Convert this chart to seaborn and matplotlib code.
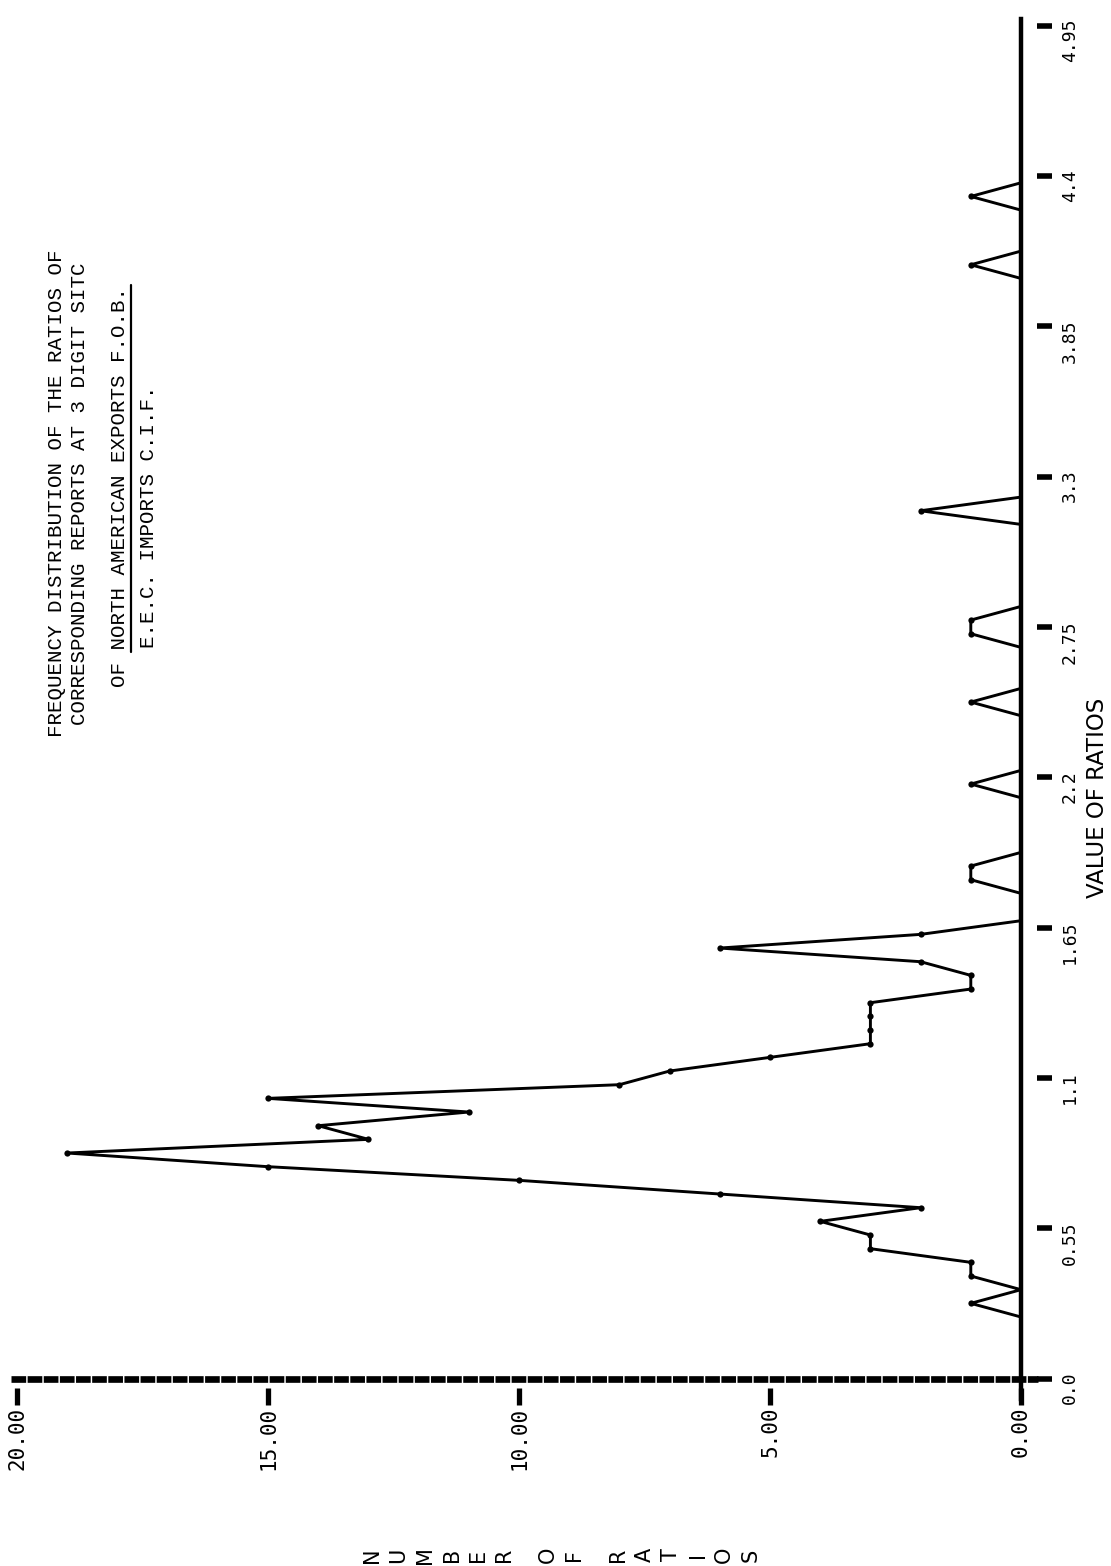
import numpy as np
import pandas as pd
import matplotlib
matplotlib.use("Agg")
import matplotlib.pyplot as plt
import seaborn as sns

# Ratio classes of width 0.05 (plotted at class midpoints) and number of ratios per class
class_width = 0.05
counts = [
    0, 0, 0, 0, 0, 1, 0, 1, 1, 3,      # 0.025 - 0.475
    3, 4, 2, 6, 10, 15, 19, 13, 14, 11,  # 0.525 - 0.975
    15, 8, 7, 5, 3, 3, 3, 3, 1, 1,     # 1.025 - 1.475
    2, 6, 2, 0, 0, 0, 1, 1, 0, 0,      # 1.525 - 1.975
    0, 0, 0, 1, 0, 0, 0, 0, 0, 1,      # 2.025 - 2.475
    0, 0, 0, 0, 1, 1, 0, 0, 0, 0,      # 2.525 - 2.975
    0, 0, 0, 2, 0, 0, 0, 0, 0, 0,      # 3.025 - 3.475
    0, 0, 0, 0, 0, 0, 0, 0, 0, 0,      # 3.525 - 3.975
    0, 1, 0, 0, 0, 0, 1, 0, 0, 0,      # 4.025 - 4.475
    0, 0, 0, 0, 0, 0, 0, 0, 0,         # 4.525 - 4.925
]
ratio_mid = np.round(class_width / 2 + class_width * np.arange(len(counts)), 3)

ratio_ticks = [0.0, 0.55, 1.1, 1.65, 2.2, 2.75, 3.3, 3.85, 4.4, 4.95]
ratio_tick_labels = ["0.0", "0.55", "1.1", "1.65", "2.2", "2.75", "3.3", "3.85", "4.4", "4.95"]
count_ticks = [0, 5, 10, 15, 20]
count_tick_labels = ["0.00", "5.00", "10.00", "15.00", "20.00"]

title_lines = [
    "FREQUENCY DISTRIBUTION OF THE RATIOS OF",
    "CORRESPONDING REPORTS AT 3 DIGIT SITC",
    "OF NORTH AMERICAN EXPORTS F.O.B.",
    "E.E.C. IMPORTS C.I.F.",
]
x_axis_title = "VALUE OF RATIOS"
y_axis_title = "NUMBER OF RATIOS"

sns.set_style("white")
plt.rcParams["font.family"] = ["DejaVu Sans"]

W, H = 1111, 1566
fig = plt.figure(figsize=(W / 100, H / 100), dpi=100)
fig.patch.set_facecolor("white")


def fx(px):
    return px / W


def fy(py):
    return 1 - py / H


# sideways chart: number of ratios runs right-to-left, ratio value runs upward
ax = fig.add_axes([fx(11), fy(1399), (1021 - 11) / W, (1399 - 18.8) / H])
ax.set_xlim(20.12, 0)
ax.set_ylim(-0.075, 4.975)
ax.set_facecolor("white")
for side in ["top", "left", "bottom"]:
    ax.spines[side].set_visible(False)
ax.spines["right"].set_linewidth(3.2)
ax.spines["right"].set_color("black")
ax.set_xticks([])
ax.set_yticks([])

df = pd.DataFrame({"ratio": ratio_mid, "count": counts})
sns.lineplot(
    data=df, x="count", y="ratio", sort=False, estimator=None,
    color="black", linewidth=2.1, marker="o", markersize=4.5,
    markeredgewidth=0, markevery=[c > 0 for c in counts],
    clip_on=False, ax=ax, legend=False,
)
ax.set_xlabel("")
ax.set_ylabel("")

# count axis drawn as a heavy broken rule at ratio 0
ax.plot([20.12, -0.33], [0, 0], color="black", linewidth=4.8,
        dashes=(2.2, 0.22), clip_on=False, zorder=3)

mono = "DejaVu Sans Mono"

# ratio ticks (detached bars) and labels
for t, lab in zip(ratio_ticks, ratio_tick_labels):
    ax.plot([-0.32, -0.62], [t, t], color="black", linewidth=4,
            solid_capstyle="butt", clip_on=False)
    ax.text(-0.97, t + 0.025, lab, rotation=90, ha="center", va="top",
            fontsize=13, family=mono, color="black")

# count ticks and labels
for c, lab in zip(count_ticks, count_tick_labels):
    ax.plot([c, c], [-0.035, -0.097], color="black", linewidth=3.8,
            solid_capstyle="butt", clip_on=False)
    ax.text(c, -0.102, lab, rotation=90, ha="center", va="top",
            fontsize=15, family=mono, color="black")

# axis titles
fig.text(fx(1098), fy(798), x_axis_title, rotation=90, ha="center",
         va="center", fontsize=16.5, color="black")

x_pos = 372.0
for ch in y_axis_title:
    if ch == " ":
        x_pos += 17
        continue
    fig.text(fx(x_pos), fy(1555), ch, rotation=90, ha="center", va="center",
             fontsize=15, color="black")
    x_pos += 26.5

# typed title block
tfont = "Liberation Mono"
title_cols = [57, 80, 120, 148]
title_bottoms = [737, 725, 687, 648]
for line, cx, by in zip(title_lines, title_cols, title_bottoms):
    fig.text(fx(cx), fy(by), line, rotation=90, ha="center", va="bottom",
             fontsize=15, family=tfont, color="black")
fig.add_artist(plt.Line2D([fx(131), fx(131)], [fy(652), fy(285)],
                          color="black", linewidth=1.6))

fig.savefig("out.png", dpi=100, facecolor="white")
